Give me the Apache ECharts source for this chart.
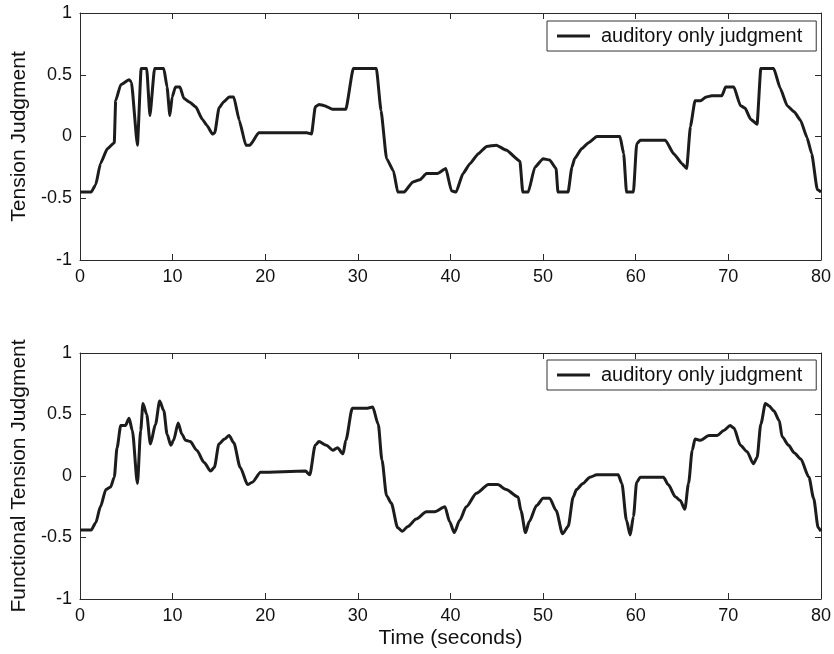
<!DOCTYPE html>
<html>
<head>
<meta charset="utf-8">
<script src="https://cdn.jsdelivr.net/npm/echarts@6/dist/echarts.min.js"></script>
<style>
html,body{margin:0;padding:0;background:#fff;}
#chart{width:834px;height:654px;}
</style>
</head>
<body>
<div id="chart"></div>
<script>
// ---- data (time in seconds, judgment values) ----
const seriesName = 'auditory only judgment';
const xTicks = [0, 10, 20, 30, 40, 50, 60, 70, 80];
const yTicks = [-1, -0.5, 0, 0.5, 1];

const timeTop = [
  0, 1.2, 1.7, 2.2, 2.95, 3.7, 3.85, 4.4, 5.3, 5.55,
  6.2, 6.6, 7.2, 7.55, 8.05, 9.05, 9.4, 9.7, 9.95, 10.3,
  10.8, 11.2, 11.8, 12.5, 13.2, 13.7, 14.3, 14.55, 15.0, 15.5,
  16.1, 16.6, 17.2, 17.9, 18.35, 19.3, 24.5, 25.0, 25.4, 25.8,
  26.4, 27.3, 28.7, 29.5, 32.0, 32.5, 33.1, 33.85, 34.3, 35.0,
  35.9, 36.7, 37.4, 38.6, 39.5, 40.1, 40.6, 41.35, 42.1, 43.0,
  43.9, 44.95, 46.0, 47.5, 47.8, 48.4, 49.1, 50.0, 50.7, 51.4,
  51.6, 52.7, 53.1, 53.4, 54.15, 54.9, 55.8, 58.3, 58.7, 59.0,
  59.75, 60.1, 60.5, 63.2, 64.1, 65.0, 65.5, 65.9, 66.4, 67.0,
  67.6, 68.2, 69.3, 69.7, 70.6, 71.3, 71.8, 72.4, 73.1, 73.5,
  74.9, 75.6, 76.35, 77.1, 77.8, 78.5, 79.0, 79.6, 80
];
const tensionTop = [
  -0.45, -0.45, -0.39, -0.22, -0.10, -0.05, 0.29, 0.42, 0.46, 0.44,
  -0.07, 0.55, 0.55, 0.17, 0.55, 0.55, 0.40, 0.17, 0.32, 0.40,
  0.40, 0.31, 0.28, 0.24, 0.14, 0.09, 0.02, 0.03, 0.23, 0.28,
  0.32, 0.32, 0.13, -0.07, -0.07, 0.03, 0.03, 0.02, 0.24, 0.26,
  0.25, 0.22, 0.22, 0.55, 0.55, 0.21, -0.18, -0.28, -0.45, -0.45,
  -0.37, -0.35, -0.30, -0.30, -0.26, -0.44, -0.45, -0.30, -0.22, -0.14,
  -0.08, -0.07, -0.11, -0.20, -0.45, -0.45, -0.25, -0.18, -0.19, -0.26,
  -0.45, -0.45, -0.25, -0.18, -0.10, -0.05, 0.0, 0.0, -0.14, -0.45,
  -0.45, -0.06, -0.03, -0.03, -0.14, -0.22, -0.26, 0.08, 0.29, 0.29,
  0.32, 0.33, 0.33, 0.40, 0.40, 0.25, 0.23, 0.14, 0.10, 0.55,
  0.55, 0.39, 0.25, 0.20, 0.13, -0.01, -0.14, -0.43, -0.45
];

const timeBottom = [
  0, 1.2, 1.7, 2.2, 2.8, 3.3, 3.7, 4.0, 4.4, 4.9,
  5.3, 5.65, 6.2, 6.55, 6.8, 7.2, 7.6, 8.15, 8.6, 9.05,
  9.4, 9.8, 10.1, 10.6, 11.0, 11.4, 11.9, 12.6, 13.4, 14.1,
  14.5, 15.0, 15.6, 16.1, 16.6, 17.3, 18.1, 18.6, 19.5, 24.35,
  24.8, 25.4, 25.8, 26.6, 27.3, 27.8, 28.4, 28.7, 29.4, 30.9,
  31.6, 32.2, 32.6, 33.1, 33.6, 34.3, 34.8, 35.4, 36.3, 37.4,
  38.3, 39.4, 39.9, 40.4, 41.0, 41.7, 42.8, 44.1, 45.1, 46.0,
  47.3, 47.6, 48.1, 48.5, 49.3, 50.0, 50.7, 51.4, 52.1, 52.7,
  53.25, 53.6, 54.3, 55.05, 55.8, 58.1, 58.5, 59.0, 59.4, 59.75,
  60.1, 60.5, 63.0, 63.5, 64.3, 64.8, 65.3, 65.7, 66.1, 66.4,
  67.0, 67.9, 68.8, 69.5, 70.2, 70.6, 71.3, 72.0, 72.7, 73.1,
  73.5, 74.0, 74.4, 74.9, 75.5, 75.8, 76.5, 77.1, 77.8, 78.7,
  79.2, 79.7, 80
];
const tensionBottom = [
  -0.44, -0.44, -0.38, -0.25, -0.11, -0.09, -0.01, 0.23, 0.41, 0.41,
  0.47, 0.37, -0.06, 0.37, 0.59, 0.50, 0.26, 0.42, 0.61, 0.53,
  0.34, 0.25, 0.29, 0.43, 0.34, 0.29, 0.28, 0.21, 0.11, 0.04,
  0.07, 0.26, 0.30, 0.33, 0.27, 0.07, -0.07, -0.05, 0.03, 0.04,
  0.01, 0.25, 0.28, 0.25, 0.21, 0.23, 0.18, 0.29, 0.55, 0.55,
  0.56, 0.42, 0.13, -0.16, -0.22, -0.42, -0.45, -0.41, -0.35, -0.29,
  -0.29, -0.25, -0.37, -0.46, -0.36, -0.25, -0.14, -0.07, -0.07, -0.11,
  -0.17, -0.28, -0.46, -0.37, -0.24, -0.18, -0.18, -0.28, -0.47, -0.41,
  -0.17, -0.11, -0.06, -0.01, 0.01, 0.01, -0.06, -0.36, -0.48, -0.33,
  -0.05, -0.01, -0.01, -0.07, -0.17, -0.20, -0.27, -0.06, 0.21, 0.30,
  0.29, 0.33, 0.33, 0.37, 0.41, 0.39, 0.25, 0.20, 0.10, 0.15,
  0.42, 0.59, 0.57, 0.53, 0.45, 0.32, 0.25, 0.19, 0.14, -0.01,
  -0.18, -0.42, -0.45
];

const yTitleTop = 'Tension Judgment';
const yTitleBottom = 'Functional Tension Judgment';
const xTitle = 'Time (seconds)';

// ---- build ----
const FONT = '"Liberation Sans", Arial, Helvetica, sans-serif';
const zip = (xs, ys) => xs.map((x, i) => [x, ys[i]]);
const axisColor = '#2a2a2a';
const lineColor = '#1c1c1c';

function xAxisPair(gi, showName) {
  const base = {
    type: 'value', gridIndex: gi, min: xTicks[0], max: xTicks[xTicks.length - 1],
    interval: xTicks[1] - xTicks[0], splitLine: { show: false },
    axisLine: { show: true, onZero: false, lineStyle: { color: axisColor, width: 1 } },
    axisTick: { show: true, inside: true, length: 6, lineStyle: { color: axisColor } }
  };
  return [
    Object.assign({}, base, {
      position: 'bottom',
      axisLabel: { color: '#111', fontSize: 18, fontFamily: FONT, margin: 8 },
      name: showName ? xTitle : '', nameLocation: 'middle', nameGap: 29,
      nameTextStyle: { color: '#111', fontSize: 21, fontFamily: FONT }
    }),
    Object.assign({}, base, { position: 'top', axisLabel: { show: false } })
  ];
}
function yAxisPair(gi, title) {
  const base = {
    type: 'value', gridIndex: gi, min: yTicks[0], max: yTicks[yTicks.length - 1],
    interval: yTicks[1] - yTicks[0], splitLine: { show: false },
    axisLine: { show: true, onZero: false, lineStyle: { color: axisColor, width: 1 } },
    axisTick: { show: true, inside: true, length: 6, lineStyle: { color: axisColor } }
  };
  return [
    Object.assign({}, base, {
      position: 'left',
      axisLabel: { color: '#111', fontSize: 18, fontFamily: FONT, margin: 8 },
      name: title, nameLocation: 'middle', nameGap: 47,
      nameTextStyle: { color: '#111', fontSize: 21, fontFamily: FONT }
    }),
    Object.assign({}, base, { position: 'right', axisLabel: { show: false } })
  ];
}
function legendAt(top) {
  return {
    left: 547, top: top, orient: 'horizontal',
    padding: [5, 14, 5, 10],
    borderColor: '#333', borderWidth: 1, backgroundColor: '#fff',
    itemWidth: 33, itemHeight: 3, icon: 'rect',
    selectedMode: false,
    textStyle: { color: '#111', fontSize: 20, fontFamily: FONT, padding: [0, 0, 0, 6] },
    data: [seriesName]
  };
}

const chart = echarts.init(document.getElementById('chart'), null, { renderer: 'canvas' });
chart.setOption({
  animation: false,
  backgroundColor: '#fff',
  grid: [
    { left: 80, right: 12, top: 13, height: 247 },
    { left: 80, right: 12, top: 353, height: 246 }
  ],
  legend: [legendAt(21), legendAt(360)],
  xAxis: [].concat(xAxisPair(0, false), xAxisPair(1, true)),
  yAxis: [].concat(yAxisPair(0, yTitleTop), yAxisPair(1, yTitleBottom)),
  series: [
    {
      name: seriesName, type: 'line', xAxisIndex: 0, yAxisIndex: 0,
      data: zip(timeTop, tensionTop), showSymbol: false, symbol: 'none',
      smooth: 0.15, smoothMonotone: 'x',
      lineStyle: { color: lineColor, width: 3 }, itemStyle: { color: lineColor }
    },
    {
      name: seriesName, type: 'line', xAxisIndex: 2, yAxisIndex: 2,
      data: zip(timeBottom, tensionBottom), showSymbol: false, symbol: 'none',
      smooth: 0.25, smoothMonotone: 'x',
      lineStyle: { color: lineColor, width: 3 }, itemStyle: { color: lineColor }
    }
  ]
});
</script>
</body>
</html>
